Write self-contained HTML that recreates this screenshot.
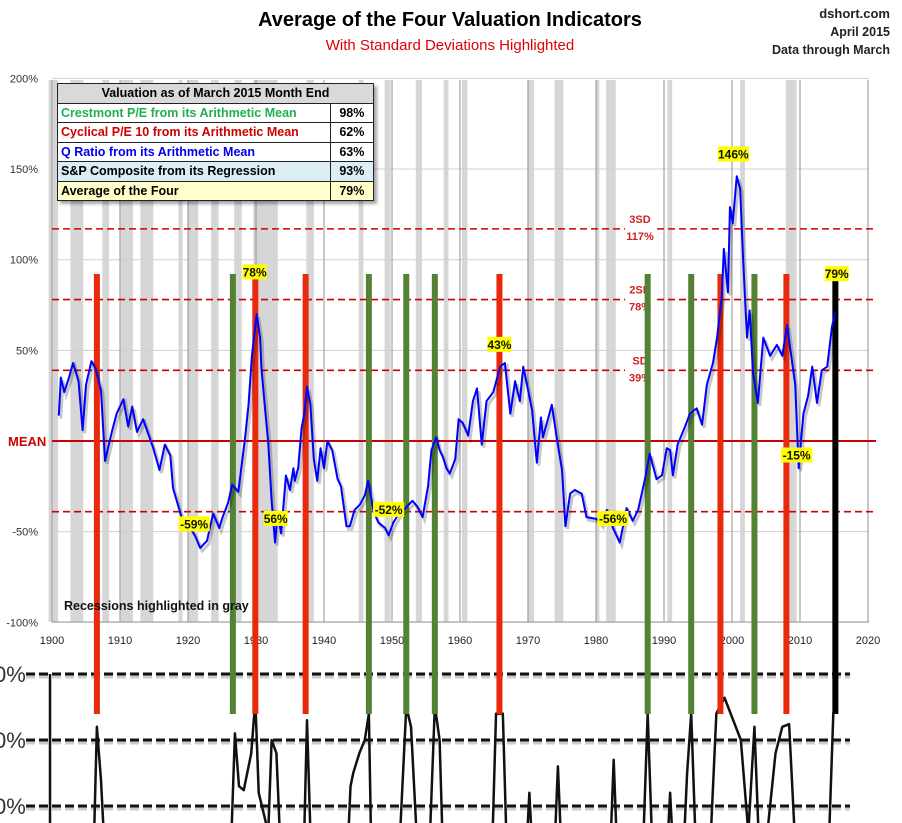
<!DOCTYPE html>
<html><head><meta charset="utf-8">
<style>
body{margin:0;background:#fff;width:902px;height:823px;overflow:hidden;font-family:"Liberation Sans",sans-serif}
svg{position:absolute;left:0;top:0}
.tbl{position:absolute;left:57px;top:83px;border-collapse:collapse;font-family:"Liberation Sans",sans-serif;font-size:12.5px;font-weight:bold;box-shadow:3px 3px 3px rgba(0,0,0,0.35);background:#fff}
.tbl td{border:1.5px solid #222;height:18.5px;padding:0 3px;white-space:nowrap}
</style></head>
<body>
<svg id="chart" width="902" height="823" xmlns="http://www.w3.org/2000/svg">
<g id="bands"></g><g id="grid"></g><g id="refs"></g><g id="bottom"></g><g id="bars"></g><g id="series"></g><g id="labels"></g>
<text x="450" y="26" text-anchor="middle" font-size="20" font-weight="bold" fill="#000">Average of the Four Valuation Indicators</text>
<text x="450" y="50" text-anchor="middle" font-size="15" fill="#e00000">With Standard Deviations Highlighted</text>
<text x="890" y="18" text-anchor="end" font-size="13" font-weight="bold" fill="#222">dshort.com</text>
<text x="890" y="36" text-anchor="end" font-size="12.5" font-weight="bold" fill="#222">April 2015</text>
<text x="890" y="54" text-anchor="end" font-size="12.5" font-weight="bold" fill="#222">Data through March</text>
<text x="64" y="610" font-size="12.5" font-weight="bold" fill="#111">Recessions highlighted in gray</text>
<text x="8" y="446" font-size="13" font-weight="bold" fill="#d00000">MEAN</text>
</svg>
<table class="tbl">
<tr style="background:#d9d9d9"><td colspan="2" style="text-align:center;width:309px">Valuation as of March 2015 Month End</td></tr>
<tr><td style="color:#1fb050;width:264px">Crestmont P/E from its Arithmetic Mean</td><td style="text-align:center;width:36px">98%</td></tr>
<tr><td style="color:#d00000">Cyclical P/E 10 from its Arithmetic Mean</td><td style="text-align:center">62%</td></tr>
<tr><td style="color:#0000ee">Q Ratio from its Arithmetic Mean</td><td style="text-align:center">63%</td></tr>
<tr style="background:#daeef3"><td>S&amp;P Composite from its Regression</td><td style="text-align:center">93%</td></tr>
<tr style="background:#ffffcc"><td>Average of the Four</td><td style="text-align:center">79%</td></tr>
</table>
<script>
const recessions=[[1899.5,1900.9],[1902.7,1904.6],[1907.4,1908.4],[1910.1,1911.9],[1913.0,1914.9],[1918.6,1919.2],[1920.0,1921.5],[1923.4,1924.5],[1926.8,1927.9],[1929.6,1933.2],[1937.4,1938.5],[1945.1,1945.8],[1948.9,1949.8],[1953.5,1954.4],[1957.6,1958.3],[1960.3,1961.1],[1969.9,1970.9],[1973.9,1975.2],[1980.0,1980.5],[1981.5,1982.9],[1990.5,1991.2],[2001.2,2001.9],[2007.9,2009.5]];
const xTicks=[1900,1910,1920,1930,1940,1950,1960,1970,1980,1990,2000,2010,2020];
const yTicks=[200,150,100,50,0,-50,-100];
const yTickLabels=["200%","150%","100%","50%","","-50%","-100%"];
const sdLevels=[117,78,39,-39];
const qYears=[1901,1901.3,1901.8,1902.5,1903.1,1903.9,1904.5,1905,1905.8,1906.4,1907.2,1907.8,1908.8,1909.5,1910.5,1911.2,1911.8,1912.5,1913.4,1914.9,1915.8,1916.6,1917.4,1917.8,1919.2,1920,1921,1921.8,1922.8,1923.7,1924.6,1925,1925.9,1926.5,1927.4,1928.4,1928.9,1929.4,1930.1,1930.6,1930.8,1931.3,1931.8,1932.3,1932.8,1933.2,1933.7,1934.4,1935,1935.5,1935.7,1936.2,1936.7,1937.1,1937.5,1938,1938.5,1939,1939.5,1940,1940.5,1941.2,1942,1942.5,1943.3,1943.8,1944.5,1945.3,1946,1946.5,1947.3,1948,1949,1949.5,1950.2,1951,1952,1953,1953.7,1954.5,1955.3,1955.8,1956.5,1957,1957.5,1958,1958.5,1959.3,1959.8,1960.4,1961.2,1961.9,1962.5,1963.2,1963.9,1964.9,1965.9,1966.6,1967.4,1968.1,1968.8,1969.3,1969.9,1970.6,1971.3,1971.9,1972.2,1973,1973.5,1974.3,1975,1975.5,1976.2,1976.9,1977.9,1978.6,1980.1,1980.8,1981.6,1982.5,1983.5,1984.5,1985.4,1986.2,1987.2,1987.9,1988.9,1989.7,1990.4,1990.9,1991.3,1992,1993.1,1993.8,1994.8,1995.6,1996.3,1997.2,1997.8,1998.5,1998.8,1999.4,1999.7,2000.1,2000.7,2001.2,2001.6,2002.2,2002.6,2003.1,2003.8,2004.6,2005.6,2006.6,2007.4,2008.1,2008.6,2009.3,2009.8,2010.5,2011.2,2011.8,2012.5,2013.2,2014,2014.7,2015.2];
const qVals=[14,35,27,35,43,33,6,31,44,40,28,-11,5,15,23,8,19,5,12,-4,-16,-2,-8,-26,-44,-46,-52,-59,-55,-40,-48,-43,-34,-24,-28,2,20,47,70,57,40,19,-1,-33,-56,-40,-51,-19,-27,-15,-22,-15,7,15,30,20,-10,-22,-4,-15,0,-5,-21,-25,-47,-47,-38,-35,-30,-22,-39,-45,-48,-52,-45,-40,-37,-33,-36,-42,-25,-5,2,-5,-9,-15,-18,-10,12,10,3,22,29,-2,22,27,41,43,15,33,22,41,30,17,-12,13,2,13,20,0,-16,-47,-29,-27,-29,-42,-43,-46,-38,-48,-56,-37,-44,-38,-21,-7,-21,-19,-4,-5,-19,-2,8,15,18,9,31,43,57,80,106,82,129,120,146,139,103,57,72,37,21,57,47,53,47,64,50,31,-15,15,25,41,21,39,41,63,71,79];
const redYears=[1906.6,1929.9,1937.3,1965.8,1998.3,2008.0];
const greenYears=[1926.6,1946.6,1952.1,1956.3,1987.6,1994.0,2003.3];
const blackYears=[2015.2];
const callYears=[1929.8,1932.9,1920.9,1949.5,1965.8,1982.5,2000.2,2009.5,2015.4];
const callVals=[93,-43,-46,-38,53,-43,158,-8,92];
const callText=["78%","56%","-59%","-52%","43%","-56%","146%","-15%","79%"];
const bottomYears=[1906.2,1906.6,1907.2,1907.6,1926.4,1926.9,1927.5,1928.2,1929.3,1929.9,1930.4,1931.8,1932.3,1933,1933.5,1937.1,1937.5,1938,1943.6,1943.9,1944.3,1945.2,1946,1946.6,1946.9,1951.2,1952.1,1952.8,1953.6,1955.6,1956.3,1957,1957.4,1964.8,1965.3,1966.3,1966.8,1969.9,1970.2,1970.5,1974.0,1974.4,1974.8,1982.2,1982.6,1983.0,1987.0,1987.6,1988.2,1990.6,1990.9,1991.2,1993.0,1993.4,1994.0,1994.6,1996.9,1997.7,1998.9,1999.8,2001.3,2002.4,2003.3,2003.9,2005.2,2006.4,2007.4,2008.4,2009.2,2014.3,2014.9,2015.3];
const bottomVals=[-20,60,20,-20,-20,55,15,12,40,80,10,-20,50,40,-20,-20,65,-20,-20,15,25,40,50,70,-20,-20,75,60,-20,-20,76,50,-20,-20,70,70,-20,-20,10,-20,-20,30,-20,-20,35,-20,-20,70,-20,-20,10,-20,-20,25,70,-20,-20,70,82,70,50,-20,60,-20,-20,40,60,62,-20,-20,70,80];
const NS="http://www.w3.org/2000/svg";
const X0=52,PXY=6.8,Y0=441,PXP=1.813;
function xs(y){return X0+(y-1900)*PXY}
function ys(v){return Y0-v*PXP}
function yb(v){return 806-v*1.32}
function mk(parent,tag,attrs){const e=document.createElementNS(NS,tag);for(const k in attrs)e.setAttribute(k,attrs[k]);document.getElementById(parent).appendChild(e);return e;}
recessions.forEach((r,i)=>{
 const e=mk('bands','rect',{x:xs(r[0]),y:80,width:(r[1]-r[0])*PXY,height:542,fill:'#d6d6d6'});
 
 
});
yTicks.forEach((t,i)=>{
 const l=mk('grid','line',{x1:52,x2:869,y1:ys(t),y2:ys(t),stroke:'#d0d0d0','stroke-width':1});
 
 
 const tx=mk('grid','text',{x:38,y:ys(t)+4,'text-anchor':'end','font-size':11,fill:'#333'});
 tx.textContent=yTickLabels[i];
 
 
});
xTicks.forEach(t=>{
 const l=mk('grid','line',{x1:xs(t),x2:xs(t),y1:80,y2:622,stroke:'#909090','stroke-width':1});
 
 
 const tx=mk('grid','text',{x:xs(t),y:644,'text-anchor':'middle','font-size':11,fill:'#222'});
 tx.textContent=t;
 
 
});
mk('grid','line',{x1:52,x2:52,y1:80,y2:622,stroke:'#999'});
mk('grid','line',{x1:52,x2:869,y1:622,y2:622,stroke:'#999'});
const meanL=mk('refs','line',{x1:52,x2:876,y1:ys(0),y2:ys(0),stroke:'#cc0000','stroke-width':2});


sdLevels.forEach(v=>{
 const gap=v>0;
 const segs=gap?[[52,625],[657,876]]:[[52,876]];
 segs.forEach(s=>{
  const l=mk('refs','line',{x1:s[0],x2:s[1],y1:ys(v),y2:ys(v),stroke:'#cc0000','stroke-width':1.6,'stroke-dasharray':'7,4'});
  
  
 });
 if(gap){
  const names={117:'3SD',78:'2SD',39:'SD'};
  const a=mk('refs','text',{x:640,y:ys(v)-6,'text-anchor':'middle','font-size':11,'font-weight':'bold',fill:'#cc2222'});a.textContent=names[v];
  
  
  const b=mk('refs','text',{x:640,y:ys(v)+11,'text-anchor':'middle','font-size':11,'font-weight':'bold',fill:'#cc2222'});b.textContent=v+'%';
  
  
 }
});
[674,740,806].forEach(y=>{
 mk('bottom','line',{x1:26,x2:850,y1:y+2,y2:y+2,stroke:'#ccc','stroke-width':5,'stroke-dasharray':'9,4'});
 const l=mk('bottom','line',{x1:26,x2:850,y1:y,y2:y,stroke:'#111','stroke-width':3,'stroke-dasharray':'9,4'});
 
 
 const t=mk('bottom','text',{x:-6,y:y+8,'font-size':22,fill:'#333'});t.textContent='0%';
 
 
});
mk('bottom','line',{x1:50,x2:50,y1:674,y2:823,stroke:'#111','stroke-width':2.5});
const bp=mk('bottom','polyline',{points:bottomYears.map((y,i)=>xs(y)+','+yb(bottomVals[i])).join(' '),fill:'none',stroke:'#111','stroke-width':2.5,'stroke-linejoin':'round'});


function bar(year,color,top,name){
 const r=mk('bars','rect',{x:xs(year)-3,y:top,width:6,height:714-top,fill:color});
 
 
}
redYears.forEach(y=>bar(y,'#e8290b',274,'red-marker-bar'));
greenYears.forEach(y=>bar(y,'#548235',274,'green-marker-bar'));
blackYears.forEach(y=>bar(y,'#000',281,'current-marker-bar'));
const pts=qYears.map((y,i)=>xs(y)+','+ys(qVals[i])).join(' ');
mk('series','polyline',{points:pts,fill:'none',stroke:'rgba(0,0,0,0.22)','stroke-width':3,transform:'translate(2,3)'});
const sl=mk('series','polyline',{points:pts,fill:'none',stroke:'#0000ff','stroke-width':2,'stroke-linejoin':'round'});


callYears.forEach((y,i)=>{
 const w=callText[i].length*7.3+2;
 const cx=xs(y),cy=ys(callVals[i]);
 const r=mk('labels','rect',{x:cx-w/2,y:cy-8,width:w,height:15,fill:'#ffff00'});
 
 
 const t=mk('labels','text',{x:cx,y:cy+4,'text-anchor':'middle','font-size':12,'font-weight':'bold',fill:'#111'});
 t.textContent=callText[i];
 
 
});
</script>
</body></html>
